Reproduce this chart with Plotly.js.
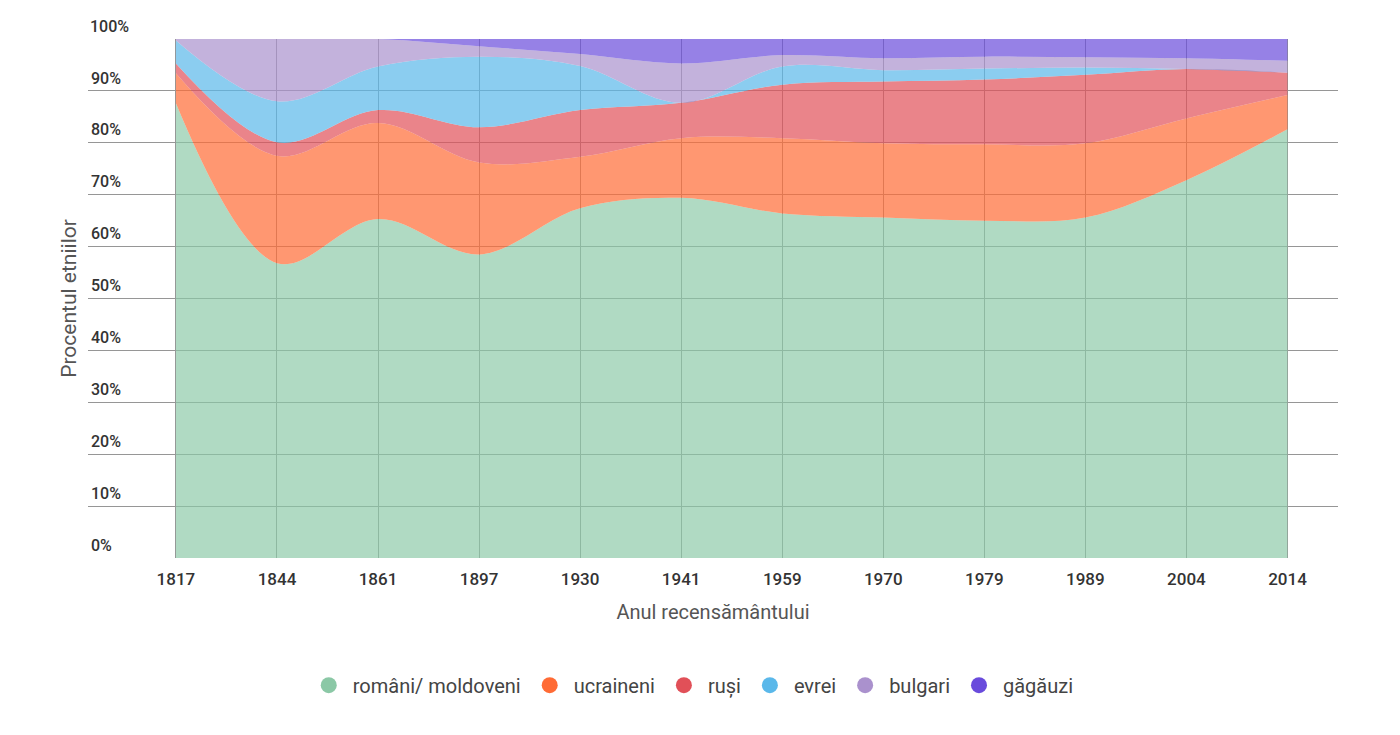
<!DOCTYPE html>
<html>
<head>
<meta charset="utf-8">
<script src="https://cdn.plot.ly/plotly-3.0.1.min.js"></script>
<style>
  html, body { margin: 0; padding: 0; background: #fff; }
  #chart { width: 1400px; height: 735px; }
</style>
</head>
<body>
<div id="chart"></div>
<script>
// Census years (categories)
const years = ['1817','1844','1861','1897','1930','1941','1959','1970','1979','1989','2004','2014'];

// Share of each ethnic group (%)
const romaniMoldoveni = [87.6, 56.8, 65.3, 58.5, 67.4, 69.4, 66.4, 65.6, 65.0, 65.6, 72.8, 82.6];
const ucraineni       = [ 5.8, 20.7, 18.5, 17.7,  9.9, 11.5, 14.5, 14.3, 14.7, 14.3, 11.9,  6.6];
const rusi            = [ 1.9,  2.6,  2.5,  6.8,  9.0,  6.8, 10.3, 11.9, 12.5, 13.2,  9.5,  4.3];
const evrei           = [ 4.4,  7.9,  8.4, 13.6,  8.5,  0.0,  3.5,  2.2,  2.1,  1.4,  0.0,  0.0];
const bulgari         = [ 0.3, 12.0,  5.3,  2.0,  2.3,  7.6,  2.2,  2.3,  2.3,  2.0,  2.1,  2.3];
const gagauzi         = [ 0.0,  0.0,  0.0,  1.4,  2.9,  4.7,  3.1,  3.7,  3.4,  3.5,  3.7,  4.2];

const seriesNames = ['români/ moldoveni', 'ucraineni', 'ruși', 'evrei', 'bulgari', 'găgăuzi'];
const seriesValues = [romaniMoldoveni, ucraineni, rusi, evrei, bulgari, gagauzi];

// Y tick labels
const yTickVals = [0, 10, 20, 30, 40, 50, 60, 70, 80, 90, 100];
const yTickText = ['0%', '10%', '20%', '30%', '40%', '50%', '60%', '70%', '80%', '90%', '100%'];

// Styles
const solidColors = ['rgb(139,200,166)', 'rgb(255,107,53)', 'rgb(225,80,88)', 'rgb(90,184,234)', 'rgb(170,145,205)', 'rgb(105,75,220)'];
const fillColors = ['rgba(139,200,166,0.68)', 'rgba(255,107,53,0.7)', 'rgba(225,80,88,0.7)', 'rgba(90,184,234,0.7)', 'rgba(170,145,205,0.7)', 'rgba(105,75,220,0.7)'];
const tickFont = { family: 'Roboto, sans-serif', size: 16, color: '#333', weight: 500 };

const traces = [];
seriesValues.forEach((vals, i) => {
  traces.push({
    type: 'scatter',
    mode: 'lines',
    x: years,
    y: vals,
    name: seriesNames[i],
    stackgroup: 'one',
    groupnorm: i === 0 ? 'percent' : undefined,
    line: { width: 0, shape: 'spline', smoothing: 1, color: solidColors[i] },
    fillcolor: fillColors[i],
    showlegend: false,
    hoverinfo: 'x+y+name'
  });
});
// Legend entries (circles)
seriesNames.forEach((n, i) => {
  traces.push({
    type: 'scatter',
    mode: 'markers',
    x: [null],
    y: [null],
    name: n,
    marker: { symbol: 'circle', size: 22, color: solidColors[i] },
    showlegend: true,
    hoverinfo: 'skip'
  });
});

// The top tick label sits above the plot area, so it is drawn as an annotation
const topIdx = yTickVals.length - 1;
const annotations = [{
  xref: 'paper', x: 0, xanchor: 'left',
  yref: 'y', y: yTickVals[topIdx], yanchor: 'middle', yshift: 13,
  text: yTickText[topIdx],
  showarrow: false,
  font: tickFont
}];

const layout = {
  width: 1400,
  height: 735,
  paper_bgcolor: '#ffffff',
  plot_bgcolor: '#ffffff',
  margin: { l: 88, r: 62, t: 39, b: 177 },
  font: { family: 'Roboto, "Noto Sans", sans-serif', color: '#444' },
  showlegend: true,
  annotations: annotations,
  xaxis: {
    type: 'category',
    range: [-0.87, 11.5],
    showgrid: true,
    gridcolor: 'rgb(150,150,150)',
    gridwidth: 1,
    zeroline: false,
    showline: false,
    ticks: '',
    ticklabelstandoff: 9,
    tickfont: { family: 'Roboto, sans-serif', size: 17, color: '#333', weight: 500 },
    title: { text: 'Anul recensământului', font: { family: 'Roboto, sans-serif', size: 20, color: '#555' }, standoff: 16 },
    fixedrange: true
  },
  yaxis: {
    range: [0, 100],
    tickvals: yTickVals,
    ticktext: yTickText,
    showgrid: true,
    gridcolor: 'rgb(150,150,150)',
    gridwidth: 1,
    zeroline: false,
    showline: false,
    ticks: '',
    ticklabelposition: 'inside',
    ticklabelshift: -13,
    ticklabelstandoff: 0,
    tickfont: tickFont,
    title: { text: 'Procentul etniilor', font: { family: 'Roboto, sans-serif', size: 21, color: '#555' }, standoff: 8 },
    fixedrange: true
  },
  legend: {
    orientation: 'h',
    x: 0.483,
    xanchor: 'center',
    y: -0.245,
    yanchor: 'middle',
    font: { family: 'Roboto, sans-serif', size: 20, color: '#444' },
    itemsizing: 'trace',
    itemwidth: 38,
    traceorder: 'normal'
  }
};

Plotly.newPlot('chart', traces, layout, { displayModeBar: false, staticPlot: true });
</script>
</body>
</html>
